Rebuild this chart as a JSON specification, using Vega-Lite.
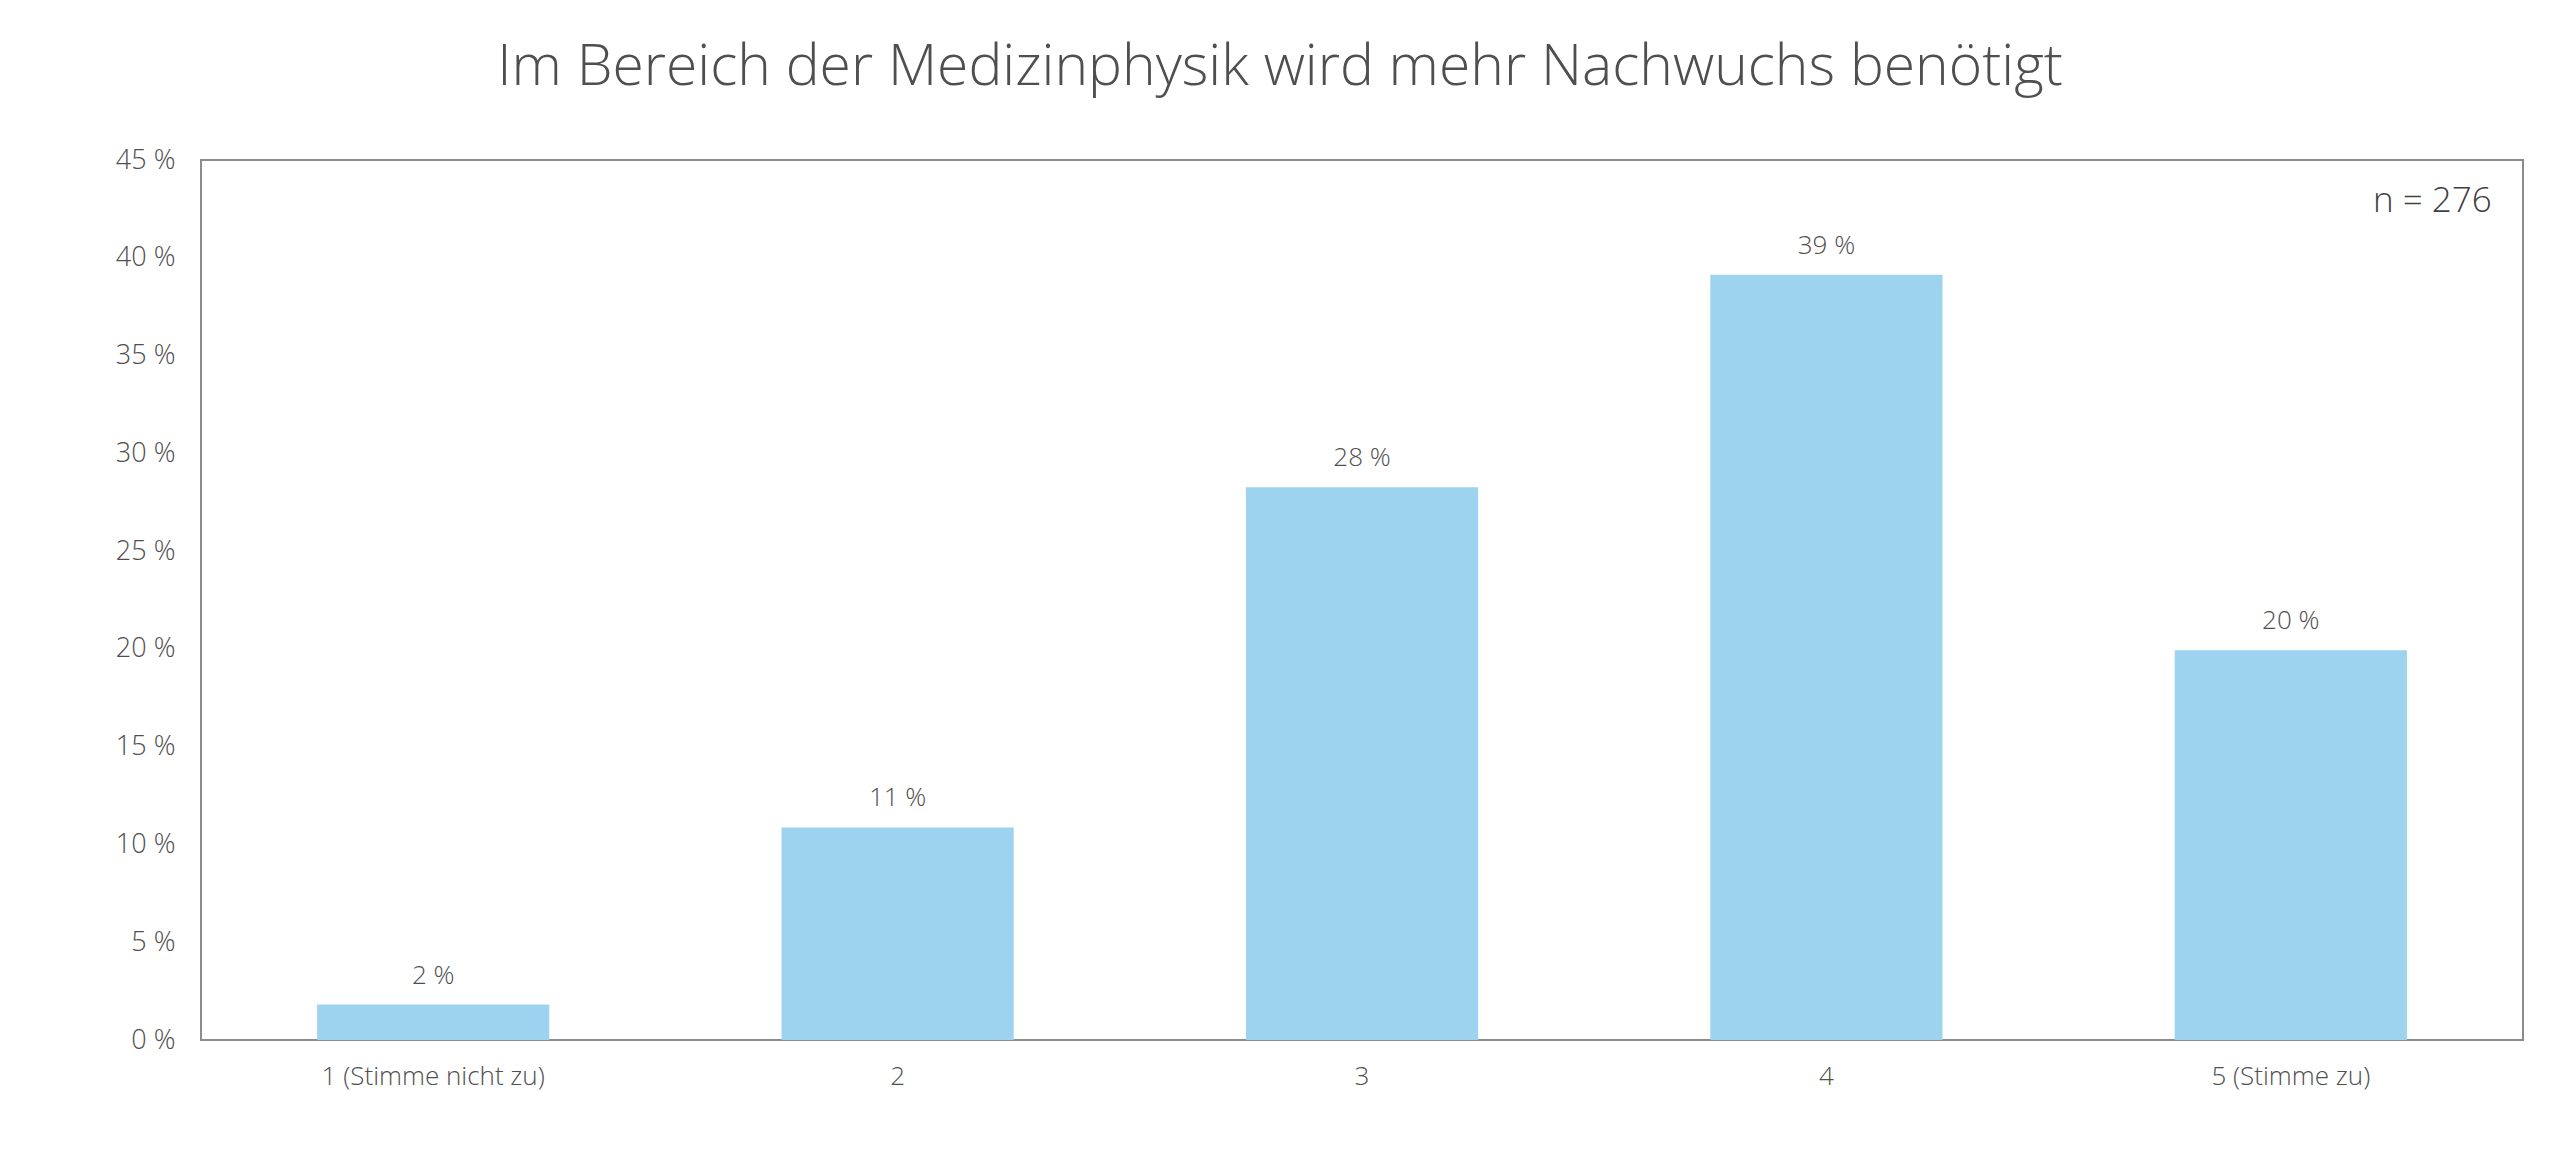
{
  "$schema": "https://vega.github.io/schema/vega-lite/v6.json",
  "width": 2322,
  "height": 880,
  "autosize": "none",
  "padding": {"left": 201, "top": 160, "right": 37, "bottom": 124},
  "background": "white",
  "title": {
    "text": "Im Bereich der Medizinphysik wird mehr Nachwuchs benötigt",
    "font": "Open Sans",
    "fontWeight": 300,
    "fontSize": 57,
    "color": "#4F4F4F",
    "anchor": "middle",
    "dx": -82,
    "offset": 49
  },
  "datasets": {
    "bars": [
      {"antwort": "1 (Stimme nicht zu)", "anteil": 1.81, "label": "2 %"},
      {"antwort": "2", "anteil": 10.87, "label": "11 %"},
      {"antwort": "3", "anteil": 28.26, "label": "28 %"},
      {"antwort": "4", "anteil": 39.13, "label": "39 %"},
      {"antwort": "5 (Stimme zu)", "anteil": 19.93, "label": "20 %"}
    ],
    "note": [
      {"antwort": "5 (Stimme zu)", "anteil": 42.9, "label": "n = 276"}
    ]
  },
  "layer": [
    {
      "data": {"name": "bars"},
      "mark": {"type": "bar", "color": "#9DD3EF"},
      "encoding": {
        "x": {
          "field": "antwort",
          "type": "nominal",
          "sort": null,
          "scale": {"paddingInner": 0.5, "paddingOuter": 0.25},
          "axis": {
            "title": null,
            "labelAngle": 0,
            "labelFont": "Open Sans",
            "labelFontWeight": 300,
            "labelFontSize": 26,
            "labelColor": "#4F4F4F",
            "labelPadding": 23,
            "labelLimit": 0,
            "ticks": false,
            "domain": false
          }
        },
        "y": {
          "field": "anteil",
          "type": "quantitative",
          "scale": {"domain": [0, 45]},
          "axis": {
            "title": null,
            "values": [0, 5, 10, 15, 20, 25, 30, 35, 40, 45],
            "labelExpr": "datum.value + ' %'",
            "labelFont": "Open Sans",
            "labelFontWeight": 300,
            "labelFontSize": 27,
            "labelColor": "#4F4F4F",
            "labelPadding": 26,
            "grid": false,
            "ticks": false,
            "domain": false
          }
        }
      }
    },
    {
      "data": {"name": "bars"},
      "mark": {
        "type": "text",
        "font": "Open Sans",
        "fontWeight": 300,
        "fontSize": 26,
        "color": "#4F4F4F",
        "baseline": "bottom",
        "dy": -16
      },
      "encoding": {
        "x": {"field": "antwort", "type": "nominal", "sort": null},
        "y": {"field": "anteil", "type": "quantitative"},
        "text": {"field": "label"}
      }
    },
    {
      "data": {"name": "note"},
      "mark": {
        "type": "text",
        "font": "Open Sans",
        "fontWeight": 300,
        "fontSize": 35,
        "color": "#404040",
        "align": "right",
        "baseline": "middle",
        "dx": 201
      },
      "encoding": {
        "x": {"field": "antwort", "type": "nominal", "sort": null},
        "y": {"field": "anteil", "type": "quantitative"},
        "text": {"field": "label"}
      }
    }
  ],
  "config": {
    "view": {"stroke": "#8C8C8C", "strokeWidth": 2}
  }
}
